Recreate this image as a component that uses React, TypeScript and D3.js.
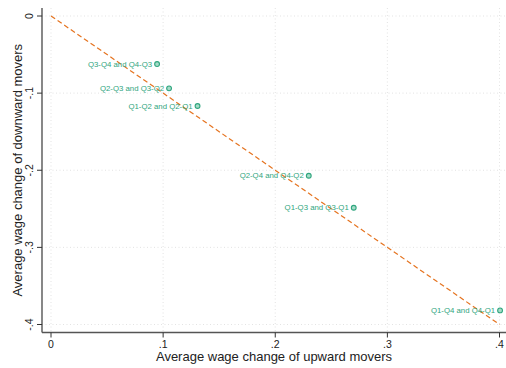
import React from "react";
import * as d3 from "d3";

const labels = [
  "Q3-Q4 and Q4-Q3",
  "Q2-Q3 and Q3-Q2",
  "Q1-Q2 and Q2-Q1",
  "Q2-Q4 and Q4-Q2",
  "Q1-Q3 and Q3-Q1",
  "Q1-Q4 and Q4-Q1",
];
const upward = [0.0946, 0.1053, 0.1307, 0.2299, 0.27, 0.4005];
const downward = [-0.0623, -0.0938, -0.1167, -0.2071, -0.2486, -0.3817];
const xTicks = [0, 0.1, 0.2, 0.3, 0.4];
const yTicks = [0, -0.1, -0.2, -0.3, -0.4];
const fitLine: [number, number][] = [
  [0, 0],
  [0.4, -0.4],
];

const W = 506;
const H = 368;
const FONT = "'Liberation Sans', Arial, Helvetica, sans-serif";
const GREEN = "#2fa57e";
const ORANGE = "#e5731f";

const fmt = (v: number) => {
  if (v === 0) return "0";
  const s = v.toFixed(1);
  return s.replace(/^(-?)0\./, "$1.");
};

export default function App() {
  const x = d3.scaleLinear().domain([0, 0.4]).range([51, 499.5]);
  const y = d3.scaleLinear().domain([0, -0.4]).range([16, 324.5]);
  const axisX = 42;
  const axisY = 332.5;
  const line = d3
    .line<[number, number]>()
    .x((d) => x(d[0]))
    .y((d) => y(d[1]));

  return (
    <svg
      width={W}
      height={H}
      style={{ position: "absolute", left: 0, top: 0, background: "#fff" }}
      fontFamily={FONT}
    >
      {/* grid */}
      {xTicks.map((t) => (
        <line
          key={"gx" + t}
          x1={x(t)}
          x2={x(t)}
          y1={8}
          y2={axisY}
          stroke="#dcdcdc"
          strokeWidth={0.8}
          strokeDasharray="1,2.5"
        />
      ))}
      {yTicks.map((t) => (
        <line
          key={"gy" + t}
          x1={axisX}
          x2={W}
          y1={y(t)}
          y2={y(t)}
          stroke="#dcdcdc"
          strokeWidth={0.8}
          strokeDasharray="1,2.5"
        />
      ))}
      {/* fit line */}
      <path
        d={line(fitLine) || ""}
        fill="none"
        stroke={ORANGE}
        strokeWidth={1.2}
        strokeDasharray="5,3"
      />
      {/* points */}
      {upward.map((u, i) => (
        <g key={labels[i]}>
          <circle
            cx={x(u)}
            cy={y(downward[i])}
            r={2.4}
            fill="#a6dcc8"
            stroke={GREEN}
            strokeWidth={1.1}
          />
          <text
            x={x(u) - 5}
            y={y(downward[i])}
            dy="0.35em"
            textAnchor="end"
            fontSize={7.8}
            fill={GREEN}
          >
            {labels[i]}
          </text>
        </g>
      ))}
      {/* axes */}
      <line x1={axisX} x2={axisX} y1={8} y2={axisY} stroke="#555" strokeWidth={1.4} />
      <line x1={axisX} x2={W} y1={axisY} y2={axisY} stroke="#555" strokeWidth={1.4} />
      {yTicks.map((t) => (
        <g key={"ty" + t}>
          <line x1={axisX - 5} x2={axisX} y1={y(t)} y2={y(t)} stroke="#333" strokeWidth={1} />
          <text
            transform={`translate(${axisX - 9},${y(t)}) rotate(-90)`}
            textAnchor="middle"
            fontSize={10.5}
            fill="#222"
          >
            {fmt(t)}
          </text>
        </g>
      ))}
      {xTicks.map((t) => (
        <g key={"tx" + t}>
          <line x1={x(t)} x2={x(t)} y1={axisY} y2={axisY + 5} stroke="#333" strokeWidth={1} />
          <text x={x(t)} y={axisY + 15} textAnchor="middle" fontSize={10.5} fill="#222">
            {fmt(t)}
          </text>
        </g>
      ))}
      <text x={(axisX + W) / 2} y={361} textAnchor="middle" fontSize={13} fill="#222">
        Average wage change of upward movers
      </text>
      <text
        transform={`translate(22,${(8 + axisY) / 2}) rotate(-90)`}
        textAnchor="middle"
        fontSize={13}
        fill="#222"
      >
        Average wage change of downward movers
      </text>
    </svg>
  );
}
